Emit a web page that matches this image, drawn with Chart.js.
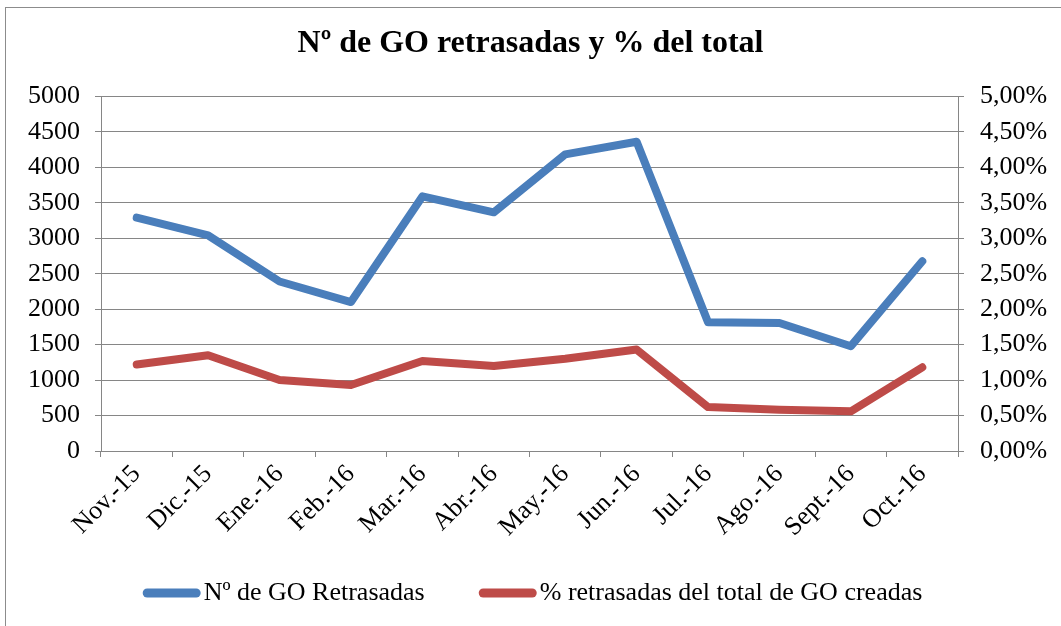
<!DOCTYPE html>
<html>
<head>
<meta charset="utf-8">
<script src="https://cdn.jsdelivr.net/npm/chart.js@4.4.1/dist/chart.umd.min.js"></script>
<style>
  body { margin: 0; background: #fff; overflow: hidden; }
  #wrap { position: absolute; left: 0; top: 0; width: 1061px; height: 626px; }
  #frame { position: absolute; left: 5px; top: 7px; width: 1200px; height: 800px; border: 1px solid #8c8c8c; }
</style>
</head>
<body>
<div id="frame"></div>
<div id="wrap"><canvas id="myChart"></canvas></div>
<script>
var labels = ['Nov.-15', 'Dic.-15', 'Ene.-16', 'Feb.-16', 'Mar.-16', 'Abr.-16',
	'May.-16', 'Jun.-16', 'Jul.-16', 'Ago.-16', 'Sept.-16', 'Oct.-16'];
var retrasadas = [3290, 3040, 2390, 2100, 3590, 3365, 4183, 4360, 1815, 1805, 1478, 2675];
var porcentaje = [1.22, 1.35, 1.00, 0.93, 1.27, 1.20, 1.30, 1.43, 0.62, 0.58, 0.56, 1.18];
var leftTicks = [0, 500, 1000, 1500, 2000, 2500, 3000, 3500, 4000, 4500, 5000];
var rightTicks = [0, 0.5, 1, 1.5, 2, 2.5, 3, 3.5, 4, 4.5, 5];

var serif = 'Liberation Serif';
var gridColor = '#868686';

// legend drawn by hand so the sample lines sit like in the original
var legendLines = {
	id: 'legendLines',
	afterDraw: function(chart) {
		var c = chart.ctx;
		var y = 593;
		c.save();
		c.font = '26px "' + serif + '"';
		c.textBaseline = 'middle';
		var items = chart.data.datasets.map(function(ds) {
			return { text: ds.label, color: ds.borderColor, w: c.measureText(ds.label).width };
		});
		var total = 0;
		items.forEach(function(it, i) { total += 58 + 3 + it.w + (i > 0 ? 54 : 0); });
		var x = chart.width / 2 + 2 - total / 2;
		items.forEach(function(it) {
			c.fillStyle = it.color;
			c.beginPath();
			c.roundRect(x, y - 4.5, 58, 9, 4.5);
			c.fill();
			c.fillStyle = '#000';
			c.fillText(it.text, x + 61, y);
			x += 58 + 3 + it.w + 54;
		});
		c.restore();
	}
};

var ctx = document.getElementById('myChart');
var myChart = new Chart(ctx, {
	type: 'line',
	data: {
		labels: labels,
		datasets: [{
			label: 'Nº de GO Retrasadas',
			data: retrasadas,
			yAxisID: 'y',
			borderColor: '#4A7EBB',
			backgroundColor: '#4A7EBB',
			borderWidth: 8,
			borderCapStyle: 'round',
			borderJoinStyle: 'round',
			pointRadius: 0,
			tension: 0
		},
		{
			label: '% retrasadas del total de GO creadas',
			data: porcentaje,
			yAxisID: 'y1',
			borderColor: '#BE4B48',
			backgroundColor: '#BE4B48',
			borderWidth: 8,
			borderCapStyle: 'round',
			borderJoinStyle: 'round',
			pointRadius: 0,
			tension: 0
		}]
	},
	plugins: [legendLines],
	options: {
		responsive: true,
		maintainAspectRatio: false,
		animation: false,
		layout: { padding: 0 },
		plugins: {
			legend: { display: false },
			tooltip: { enabled: false },
			title: {
				display: true,
				text: 'Nº de GO retrasadas y % del total',
				color: '#000',
				font: { family: serif, size: 32, weight: 'bold', lineHeight: 1.2 },
				padding: { top: 25, bottom: 33 }
			}
		},
		scales: {
			x: {
				offset: true,
				grid: { offset: true, drawOnChartArea: false, tickLength: 6, color: gridColor },
				border: { color: gridColor },
				ticks: {
					autoSkip: false, minRotation: 45, maxRotation: 45,
					color: '#000', padding: 2,
					font: { family: serif, size: 26 }
				},
				afterFit: function(scale) { scale.height = 175; }
			},
			y: {
				position: 'left',
				min: 0, max: 5000,
				afterBuildTicks: function(scale) {
					scale.ticks = leftTicks.map(function(v) { return { value: v }; });
				},
				grid: { color: gridColor, tickLength: 6 },
				border: { color: gridColor },
				ticks: {
					color: '#000', padding: 15, font: { family: serif, size: 26 },
					callback: function(v) { return String(v); }
				},
				afterFit: function(scale) { scale.width = 101; }
			},
			y1: {
				position: 'right',
				min: 0, max: 5,
				afterBuildTicks: function(scale) {
					scale.ticks = rightTicks.map(function(v) { return { value: v }; });
				},
				grid: { drawOnChartArea: false, color: gridColor, tickLength: 6 },
				border: { color: gridColor },
				ticks: {
					color: '#000', padding: 16, font: { family: serif, size: 26 },
					callback: function(v) { return v.toFixed(2).replace('.', ',') + '%'; }
				},
				afterFit: function(scale) { scale.width = 103; }
			}
		}
	}
});
</script>
</body>
</html>
